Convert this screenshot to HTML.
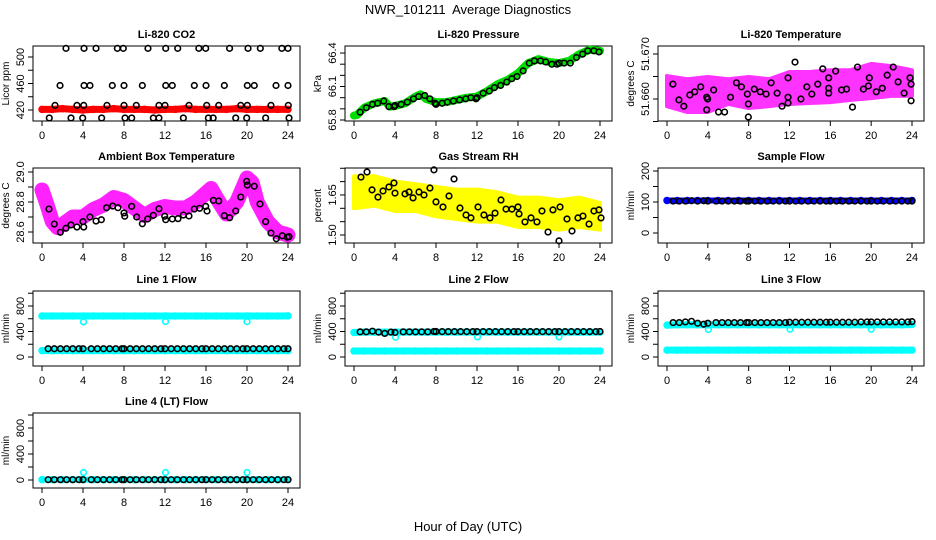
<!DOCTYPE html>
<html><head><meta charset="utf-8"><style>
html,body{margin:0;padding:0;background:#fff}
svg{display:block;font-family:"Liberation Sans",Arial,sans-serif}
</style></head><body>
<svg id="fig" width="936" height="540" viewBox="0 0 936 540" xmlns="http://www.w3.org/2000/svg">
<text x="468" y="14" text-anchor="middle" font-size="13">NWR_101211&#160; Average Diagnostics</text>
<text x="468" y="531" text-anchor="middle" font-size="13">Hour of Day (UTC)</text>
</svg>
<script>
// ---------- data ----------
const hourly = [0,1,2,3,4,5,6,7,8,9,10,11,12,13,14,15,16,17,18,19,20,21,22,23,24];
const xTicks = [0,4,8,12,16,20,24];
// CO2
const co2Red = [421,421,422,421,420,421,421,422,421,421,421,420,421,421,422,421,421,421,421,422,421,421,421,421,421];
const co2BlkHours = [2.34,4.1,5.27,7.35,7.93,10.34,12.07,13.24,15.3,15.97,18.3,20.1,21.3,23.4,24.0,
 1.76,4.1,4.68,6.86,8.0,9.79,12.07,12.71,14.86,16.0,17.79,20.03,20.71,22.83,24.0,
 1.27,3.41,4.07,6.34,8.0,9.2,11.41,12.0,14.34,16.07,17.24,19.39,20.03,22.34,24.03,
 0.71,2.83,3.97,5.82,8.1,8.75,10.86,11.41,13.79,16.23,16.7,18.9,19.97,21.82,24.1];
const co2BlkVals = [513,513,513,513,513,513,513,513,513,513,513,513,513,513,513,
 457,457,457,457,457,457,457,457,457,457,457,457,457,457,457,
 427,427,427,427,427,427,427,427,427,427,427,427,427,427,427,
 408,408,408,408,408,408,408,408,408,408,408,408,408,408,408];
// Pressure
const presHours = [0,0.3,1,2,3,3.5,4,5,6,6.5,7,8,9,10,11,12,13,14,15,16,17,18,19,20,21,22,23,24];
const presGreen = [65.84,65.845,65.91,65.95,65.97,65.92,65.925,65.95,66.01,66.03,65.99,65.96,65.96,65.98,66.0,66.01,66.06,66.12,66.16,66.22,66.31,66.345,66.32,66.31,66.33,66.39,66.43,66.42];
const presBlkHours = [0.6,1.2,1.8,2.3,2.9,3.4,3.9,4.0,4.6,5.2,5.8,6.3,6.9,7.4,7.9,8.0,8.6,9.1,9.7,10.3,10.9,11.4,11.9,12.0,12.6,13.2,13.7,14.3,14.9,15.4,15.9,16.5,17.1,17.6,18.2,18.7,19.3,19.8,20.0,20.5,21.1,21.7,22.3,22.8,23.4,23.9];
const presBlkVals = [65.87,65.91,65.94,65.95,65.97,65.92,65.92,65.93,65.94,65.96,65.99,66.01,66.02,65.99,65.95,65.94,65.95,65.96,65.97,65.98,65.99,66.0,65.99,66.0,66.04,66.06,66.09,66.11,66.14,66.17,66.19,66.24,66.31,66.33,66.33,66.32,66.30,66.30,66.31,66.31,66.31,66.36,66.39,66.42,66.42,66.41];
// Li-820 temperature
const tempEnvHours = [0,2,4,6,8,10,12,14,16,18,20,22,24];
const tempHi = [51.6651,51.6644,51.6649,51.6644,51.6649,51.6644,51.6660,51.6660,51.6664,51.6664,51.6678,51.6673,51.6664];
const tempLo = [51.6584,51.6571,51.6571,51.6589,51.6580,51.6584,51.6589,51.6591,51.6593,51.6598,51.6602,51.6607,51.6607];
const tempBlkHours = [0.58,1.17,1.65,2.24,2.72,3.3,3.89,3.98,3.89,4.57,5.05,5.64,6.22,6.8,7.29,7.87,7.97,7.97,8.55,9.14,9.71,10.2,10.79,11.27,11.86,11.86,11.86,12.54,13.12,13.7,14.19,14.77,15.26,15.84,15.84,15.84,16.52,17.1,17.59,18.17,18.66,19.24,19.73,19.82,20.5,21.09,21.57,22.16,22.64,23.23,23.81,23.91,23.91];
const tempBlkVals = [51.6633,51.6598,51.6584,51.6609,51.6616,51.6627,51.6604,51.66,51.6576,51.662,51.6571,51.6571,51.6604,51.6636,51.6627,51.6611,51.6589,51.656,51.6622,51.6616,51.6611,51.6636,51.6613,51.6584,51.6591,51.6647,51.6604,51.6682,51.66,51.6627,51.6611,51.6633,51.6667,51.6647,51.6624,51.6613,51.6662,51.662,51.6622,51.6582,51.6671,51.6622,51.6629,51.6647,51.6616,51.6624,51.6653,51.6671,51.6638,51.6613,51.6647,51.6633,51.6596];
// Ambient box temperature
const ambHours = [0,0.5,1,1.5,2,3,4,5,6,7,8,9,10,11,12,13,14,15,16,16.5,17,18,19,20,20.5,21,22,23,24];
const ambMag = [28.88,28.78,28.67,28.63,28.65,28.70,28.70,28.75,28.78,28.83,28.81,28.76,28.71,28.75,28.77,28.76,28.76,28.80,28.86,28.89,28.83,28.72,28.80,28.96,28.93,28.80,28.67,28.60,28.58];
const ambBlkHours = [0.68,1.2,1.79,2.34,2.83,3.41,4.0,4.07,4.68,5.27,5.79,6.3,6.9,7.41,8.0,8.07,8.75,9.24,9.79,10.31,10.86,11.41,11.97,12.07,12.71,13.27,13.79,14.34,14.86,15.38,15.97,16.1,16.72,17.24,17.79,18.31,18.9,19.39,19.97,20.03,20.71,21.27,21.82,22.34,22.86,23.44,23.93,24.1];
const ambBlkVals = [28.753,28.653,28.598,28.625,28.647,28.633,28.669,28.633,28.7,28.673,28.682,28.762,28.773,28.762,28.727,28.705,28.771,28.7,28.655,28.687,28.711,28.755,28.705,28.682,28.687,28.689,28.713,28.707,28.753,28.758,28.771,28.74,28.811,28.807,28.709,28.695,28.74,28.833,28.938,28.913,28.905,28.787,28.669,28.593,28.555,28.575,28.565,28.569];
// Gas stream RH
const rhHi = [1.72,1.72,1.70,1.69,1.68,1.67,1.67,1.66,1.64,1.64,1.63,1.64,1.62];
const rhLo = [1.60,1.61,1.59,1.59,1.57,1.56,1.55,1.55,1.53,1.53,1.52,1.53,1.52];
const rhBlkHours = [0.68,1.27,1.76,2.34,2.83,3.41,3.9,4.0,4.98,5.37,5.76,6.34,6.83,7.41,7.8,8.0,8.68,9.27,9.76,10.34,10.93,11.41,12.1,12.68,13.27,13.76,14.34,14.83,15.41,16.0,16.1,16.68,17.27,17.85,18.34,18.93,19.41,20.0,20.1,20.78,21.27,21.85,22.34,22.93,23.41,23.9,24.1];
const rhBlkVals = [1.717,1.736,1.669,1.642,1.665,1.68,1.695,1.657,1.654,1.661,1.639,1.661,1.65,1.676,1.744,1.624,1.605,1.646,1.71,1.601,1.575,1.564,1.605,1.575,1.564,1.582,1.631,1.597,1.597,1.605,1.579,1.549,1.564,1.549,1.59,1.511,1.594,1.478,1.605,1.56,1.515,1.564,1.571,1.541,1.59,1.594,1.564];
// Flows
const flowBlkHours = [0.6,1.2,1.8,2.4,3.0,3.6,4.0,4.8,5.4,6.0,6.6,7.2,7.8,8.0,8.6,9.2,9.8,10.4,11.0,11.6,12.0,12.6,13.2,13.8,14.4,15.0,15.6,16.0,16.6,17.2,17.8,18.4,19.0,19.6,20.0,20.6,21.2,21.8,22.4,23.0,23.6,24.0];
const outlierHours = [4.05,12.05,20.0];
const sampleBlue = [105,105,105,105,105,105,105,105,105,105,105,105,105,105,105,105,105,105,105,105,105,105,105,105,105];
const sampleBlk = [103,103,103,104,103,104,103,103,103,103,103,103,103,103,103,103,103,103,103,103,103,103,103,103,103,103,103,103,103,103,103,103,103,103,103,103,103,103,103,103,103,103];
const line1HiCyan = [643,643,643,643,643,643,643,643,643,643,643,643,643,643,643,643,643,643,643,643,643,643,643,643,645];
const line1Outliers = [550,555,555];
const line1LoCyan = [100,100,100,100,100,100,100,100,100,100,100,100,100,100,100,100,100,100,100,100,100,100,100,100,100];
const line1Blk = [130,130,130,130,130,130,130,130,130,130,130,130,130,130,130,130,130,130,130,130,130,130,130,130,130,130,130,130,130,130,130,130,130,130,130,130,130,130,130,130,130,130];
const line2HiCyan = [385,390,390,390,390,390,390,390,390,390,390,390,390,390,390,390,390,390,390,390,390,390,390,390,390];
const line2Outliers = [310,315,315];
const line2LoCyan = [94,94,94,94,94,94,94,94,94,94,94,94,94,94,94,94,94,94,94,94,94,94,94,94,94];
const line2Blk = [395,395,405,390,370,390,385,395,395,395,395,395,400,400,398,398,398,398,398,398,398,398,398,398,398,398,398,398,398,398,398,398,398,398,398,398,398,398,398,398,398,400];
const line3HiCyan = [500,505,505,505,505,505,505,505,505,505,505,505,505,505,505,505,505,505,505,505,505,505,505,505,510];
const line3Outliers = [430,435,435];
const line3LoCyan = [108,108,108,108,108,108,108,108,108,108,108,108,108,108,108,108,108,108,108,108,108,108,108,108,108];
const line3Blk = [540,540,550,560,530,515,530,540,540,540,540,540,540,540,540,540,540,540,540,540,545,545,545,545,545,545,545,545,545,545,545,545,550,550,550,550,550,550,550,550,550,555];
const line4Cyan = [5,5,5,5,5,5,5,5,5,5,5,5,5,5,5,5,5,5,5,5,5,5,5,5,5];
const line4Outliers = [115,115,115];
const line4Blk = [5,5,5,5,5,5,5,5,5,5,5,5,5,5,5,5,5,5,5,5,5,5,5,5,5,5,5,5,5,5,5,5,5,5,5,5,5,5,5,5,5,5];

// ---------- drawing ----------
const NS = 'http://www.w3.org/2000/svg';
const svg = document.getElementById('fig');
function mk(tag, attrs, parent) {
  const e = document.createElementNS(NS, tag);
  for (const k in attrs) e.setAttribute(k, attrs[k]);
  (parent || svg).appendChild(e);
  return e;
}
function panel(c) {
  const g = mk('g', {});
  
  
  const xs = h => c.L + 9 + h * (c.R - c.L - 21) / 24;
  const ys = v => c.B - (v - c.ymin) / (c.ymax - c.ymin) * (c.B - c.T);
  const box = mk('rect', {x: c.L, y: c.T, width: c.R - c.L, height: c.B - c.T, fill: 'none', stroke: '#000', 'stroke-width': 1}, g);
  
  
  const t = mk('text', {x: (c.L + c.R) / 2, y: c.T - 8, 'text-anchor': 'middle', 'font-size': 11, 'font-weight': 'bold'}, g);
  t.textContent = c.title;
  
  
  const xa = mk('g', {}, g);
  
  
  mk('line', {x1: xs(0), x2: xs(24), y1: c.B, y2: c.B, stroke: '#000'}, xa);
  xTicks.forEach(v => {
    mk('line', {x1: xs(v), x2: xs(v), y1: c.B, y2: c.B + 5, stroke: '#000'}, xa);
    const tl = mk('text', {x: xs(v), y: c.B + 18, 'text-anchor': 'middle', 'font-size': 11}, xa);
    tl.textContent = v;
    
    
  });
  const ya = mk('g', {}, g);
  
  
  mk('line', {x1: c.L, x2: c.L, y1: ys(c.ticks[0]), y2: ys(c.ticks[c.ticks.length - 1]), stroke: '#000'}, ya);
  c.ticks.forEach(v => mk('line', {x1: c.L - 5, x2: c.L, y1: ys(v), y2: ys(v), stroke: '#000'}, ya));
  c.labels.forEach(v => {
    const x = c.L - 9, y = ys(v);
    const tl = mk('text', {x: x, y: y, 'text-anchor': 'middle', 'font-size': 11, transform: `rotate(-90 ${x} ${y})`}, ya);
    tl.textContent = c.fmt ? v.toFixed(c.fmt) : v;
    
    
  });
  const yx = c.L - 24, yy = (c.T + c.B) / 2;
  const yl = mk('text', {x: yx, y: yy, 'text-anchor': 'middle', 'font-size': 10, transform: `rotate(-90 ${yx} ${yy})`}, g);
  yl.textContent = c.ylabel;
  
  
  const area = mk('g', {}, g);
  
  
  return {g: area, xs, ys};
}
function band(p, hours, vals, color, w, name) {
  const pts = hours.map((h, i) => p.xs(h) + ',' + p.ys(vals[i])).join(' ');
  const e = mk('polyline', {points: pts, fill: 'none', stroke: color, 'stroke-width': w, 'stroke-linejoin': 'round', 'stroke-linecap': 'round'}, p.g);
  
  
  hours.forEach((h, i) => {
    const c = mk('circle', {cx: p.xs(h), cy: p.ys(vals[i]), r: 3, fill: 'none', stroke: color, 'stroke-width': 1.5}, p.g);
    
    
  });
}
function envelope(p, hours, hi, lo, color, name) {
  const up = hours.map((h, i) => p.xs(h) + ',' + p.ys(hi[i]));
  const dn = hours.map((h, i) => p.xs(h) + ',' + p.ys(lo[i])).reverse();
  const e = mk('polygon', {points: up.concat(dn).join(' '), fill: color, stroke: color, 'stroke-width': 4, 'stroke-linejoin': 'round'}, p.g);
  
  
}
function pts(p, hours, vals, color, name) {
  hours.forEach((h, i) => {
    const c = mk('circle', {cx: p.xs(h), cy: p.ys(vals[i]), r: 2.8, fill: 'none', stroke: color, 'stroke-width': 1.6}, p.g);
    
    
  });
}
const C1 = [33, 300], C2 = [345, 612], C3 = [658, 924];
const R1 = [46, 121], R2 = [168, 243], R3 = [291, 366], R4 = [413, 488];
function cfg(col, row, o) { return Object.assign({L: col[0], R: col[1], T: row[0], B: row[1]}, o); }

let p;
p = panel(cfg(C1, R1, {name: 'co2-panel', title: 'Li-820 CO2', ylabel: 'Licor ppm', ymin: 403.4, ymax: 516.6, ticks: [420,440,460,480,500], labels: [420,460,500]}));
band(p, hourly, co2Red, '#ff0000', 7, 'co2-red-series');
pts(p, co2BlkHours, co2BlkVals, '#000', 'co2-black-point');

p = panel(cfg(C2, R1, {name: 'pressure-panel', title: 'Li-820 Pressure', ylabel: 'kPa', ymin: 65.791, ymax: 66.463, ticks: [65.8,65.9,66.0,66.1,66.2,66.3,66.4], labels: [65.8,66.1,66.4], fmt: 1}));
band(p, presHours, presGreen, '#00dd00', 8, 'pressure-green-series');
pts(p, presBlkHours, presBlkVals, '#000', 'pressure-black-point');

p = panel(cfg(C3, R1, {name: 'li820-temp-panel', title: 'Li-820 Temperature', ylabel: 'degrees C', ymin: 51.65511, ymax: 51.67178, ticks: [51.655,51.660,51.665,51.670], labels: [51.660,51.670], fmt: 3}));
envelope(p, tempEnvHours, tempHi, tempLo, '#ff33ff', 'temp-magenta-cloud');
pts(p, tempBlkHours, tempBlkVals, '#000', 'temp-black-point');

p = panel(cfg(C1, R2, {name: 'ambient-temp-panel', title: 'Ambient Box Temperature', ylabel: 'degrees C', ymin: 28.5267, ymax: 29.0267, ticks: [28.6,28.7,28.8,28.9,29.0], labels: [28.6,28.8,29.0], fmt: 1}));
band(p, ambHours, ambMag, '#ff22ff', 15, 'ambient-magenta-series');
pts(p, ambBlkHours, ambBlkVals, '#000', 'ambient-black-point');

p = panel(cfg(C2, R2, {name: 'rh-panel', title: 'Gas Stream RH', ylabel: 'percent', ymin: 1.470, ymax: 1.751, ticks: [1.50,1.55,1.60,1.65,1.70,1.75], labels: [1.50,1.65], fmt: 2}));
envelope(p, tempEnvHours, rhHi, rhLo, '#ffff00', 'rh-yellow-cloud');
pts(p, rhBlkHours, rhBlkVals, '#000', 'rh-black-point');

p = panel(cfg(C3, R2, {name: 'sample-flow-panel', title: 'Sample Flow', ylabel: 'ml/min', ymin: -32.3, ymax: 209.7, ticks: [0,50,100,150,200], labels: [0,100,200]}));
band(p, hourly, sampleBlue, '#0000ff', 6, 'sample-blue-series');
pts(p, flowBlkHours, sampleBlk, '#000', 'sample-black-point');

const flowTicks = [0,200,400,600,800,1000], flowLabels = [0,400,800];
p = panel(cfg(C1, R3, {name: 'line1-flow-panel', title: 'Line 1 Flow', ylabel: 'ml/min', ymin: -141, ymax: 1035, ticks: flowTicks, labels: flowLabels}));
band(p, hourly, line1HiCyan, '#00ffff', 7, 'line1-cyan-high');
band(p, hourly, line1LoCyan, '#00ffff', 7, 'line1-cyan-low');
pts(p, outlierHours, line1Outliers, '#00ffff', 'line1-cyan-outlier');
pts(p, flowBlkHours, line1Blk, '#000', 'line1-black-point');

p = panel(cfg(C2, R3, {name: 'line2-flow-panel', title: 'Line 2 Flow', ylabel: 'ml/min', ymin: -141, ymax: 1035, ticks: flowTicks, labels: flowLabels}));
band(p, hourly, line2HiCyan, '#00ffff', 7, 'line2-cyan-high');
band(p, hourly, line2LoCyan, '#00ffff', 7, 'line2-cyan-low');
pts(p, outlierHours, line2Outliers, '#00ffff', 'line2-cyan-outlier');
pts(p, flowBlkHours, line2Blk, '#000', 'line2-black-point');

p = panel(cfg(C3, R3, {name: 'line3-flow-panel', title: 'Line 3 Flow', ylabel: 'ml/min', ymin: -141, ymax: 1035, ticks: flowTicks, labels: flowLabels}));
band(p, hourly, line3HiCyan, '#00ffff', 7, 'line3-cyan-high');
band(p, hourly, line3LoCyan, '#00ffff', 7, 'line3-cyan-low');
pts(p, outlierHours, line3Outliers, '#00ffff', 'line3-cyan-outlier');
pts(p, flowBlkHours, line3Blk, '#000', 'line3-black-point');

p = panel(cfg(C1, R4, {name: 'line4-flow-panel', title: 'Line 4 (LT) Flow', ylabel: 'ml/min', ymin: -123, ymax: 1031, ticks: flowTicks, labels: flowLabels}));
band(p, hourly, line4Cyan, '#00ffff', 6, 'line4-cyan-series');
pts(p, outlierHours, line4Outliers, '#00ffff', 'line4-cyan-outlier');
pts(p, flowBlkHours, line4Blk, '#000', 'line4-black-point');
</script>
</body></html>
